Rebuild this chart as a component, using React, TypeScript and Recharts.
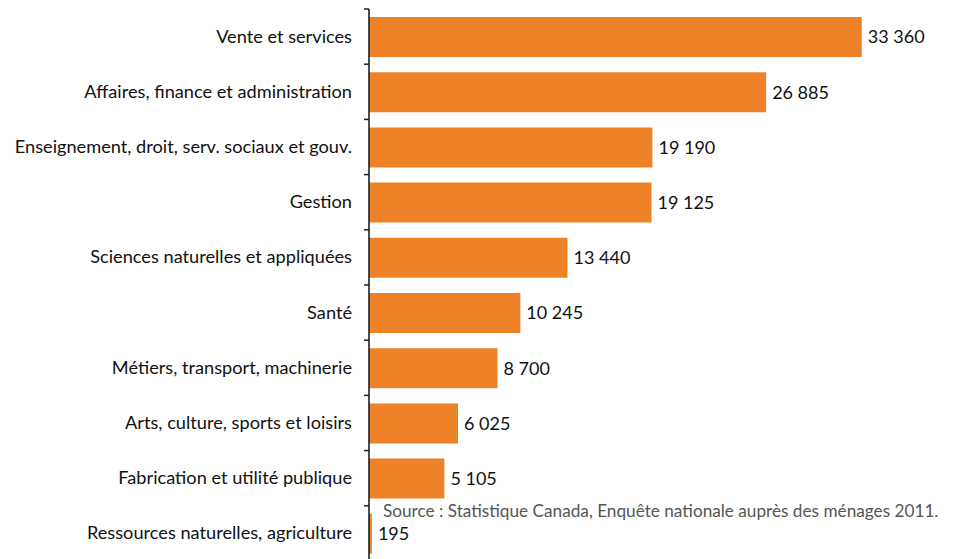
import React from "react";
import { BarChart, Bar, XAxis, YAxis, LabelList } from "recharts";

const CATEGORIES = [
  "Vente et services",
  "Affaires, finance et administration",
  "Enseignement, droit, serv. sociaux et gouv.",
  "Gestion",
  "Sciences naturelles et appliquées",
  "Santé",
  "Métiers, transport, machinerie",
  "Arts, culture, sports et loisirs",
  "Fabrication et utilité publique",
  "Ressources naturelles, agriculture",
];
const VALUES = [33360, 26885, 19190, 19125, 13440, 10245, 8700, 6025, 5105, 195];
const SOURCE = "Source : Statistique Canada, Enquête nationale auprès des ménages 2011.";

const ORANGE = "#EE8229";
const FONT = "Lato, 'Open Sans', sans-serif";

const data = CATEGORIES.map((name, i) => ({ name, value: VALUES[i] }));

const fmt = (v: number) => String(v).replace(/\B(?=(\d{3})+(?!\d))/g, " ");

// recharts hands the tick x already shifted left by tickSize + tickMargin (6 + 2)
function CategoryTick(props: any) {
  const { x, y, payload } = props;
  const axisX = x + 8;
  const half = 27.6;
  return (
    <g>
      <line x1={axisX - 5} x2={axisX} y1={y - half} y2={y - half} stroke="#222" strokeWidth={1.5} />
      <text x={axisX - 17} y={y} dy={6} textAnchor="end" fontSize={18.2} fill="#111" fontFamily={FONT}>
        {payload.value}
      </text>
    </g>
  );
}

export default function App() {
  return (
    <div style={{ position: "absolute", left: 0, top: 0, width: 957, height: 559, overflow: "hidden", background: "#fff" }}>
      <BarChart
        width={957}
        height={570}
        data={data}
        layout="vertical"
        margin={{ top: 9, right: 71, bottom: 9, left: 0 }}
      >
        <XAxis type="number" domain={[0, 35000]} hide />
        <YAxis
          type="category"
          dataKey="name"
          width={369}
          axisLine={{ stroke: "#111", strokeWidth: 1.5 }}
          tickLine={false}
          tick={<CategoryTick />}
          interval={0}
        />
        <Bar dataKey="value" fill={ORANGE} barSize={40} isAnimationActive={false}>
          <LabelList
            dataKey="value"
            position="right"
            offset={6}
            formatter={(v: any) => fmt(Number(v))}
            style={{ fontSize: 18, fill: "#111", fontFamily: FONT }}
          />
        </Bar>
      </BarChart>
      <div
        style={{
          position: "absolute",
          left: 383,
          top: 501,
          fontSize: 17.2,
          lineHeight: "20px",
          color: "#555",
          fontFamily: FONT,
          whiteSpace: "nowrap",
        }}
      >
        {SOURCE}
      </div>
    </div>
  );
}
